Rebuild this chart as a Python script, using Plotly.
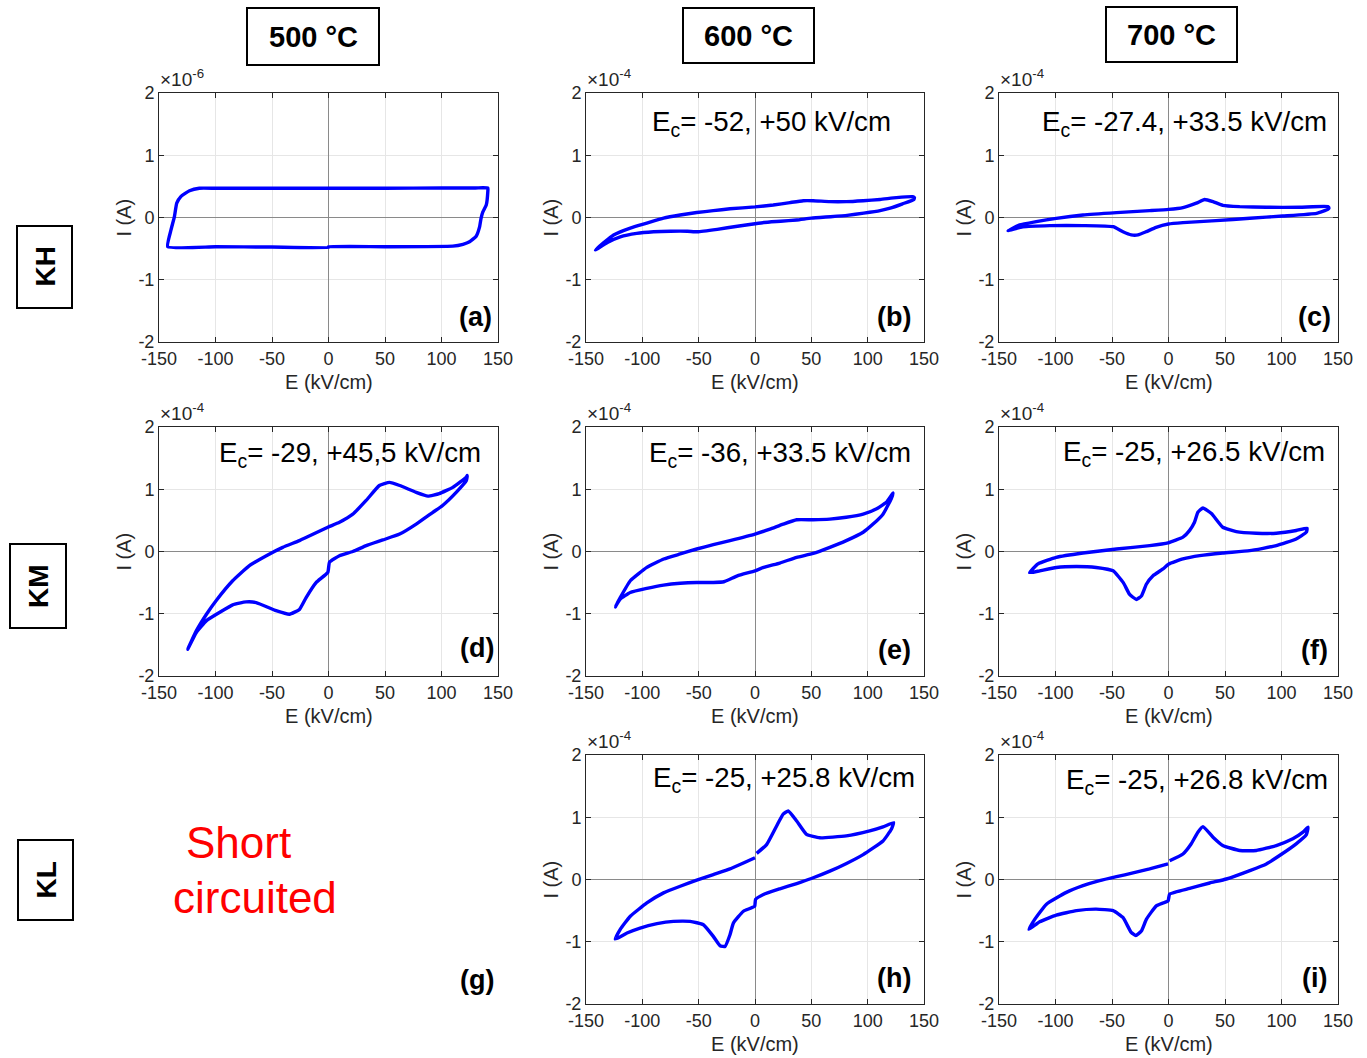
import plotly.graph_objects as go

W, H = 1367, 1058
FONT = "Liberation Sans, Arial, sans-serif"

# ---------------- data (E in kV/cm, I in units of the axis multiplier) ----------------
E_a = [-142.3, -139.4, -136.4, -134.3, -130.5, -123, -114.3, -100, -50, 0, 50, 100, 130, 141, 141, 139.6, 136.6, 135,
       133.7, 130.7, 124.8, 119, 110, 50, 0, 0, -50, -100, -142.3]
I_a = [-0.47, -0.2, 0.01, 0.23, 0.34, 0.43, 0.47, 0.47, 0.47, 0.47, 0.47, 0.475, 0.475, 0.475, 0.42, 0.2, 0.09, -0.013,
       -0.15, -0.3, -0.39, -0.43, -0.46, -0.47, -0.47, -0.48, -0.475, -0.47, -0.47]

E_b = [-141.7, -125.5, -110.7, -96, -81.2, -66.4, -51.7, -37, -22.2, 0, 16.2, 31, 42.8, 51.7, 66.4, 81, 96, 111, 125.5,
       140, 141.5, 141, 131, 120, 111, 96.5, 81.8, 67, 50, 37, 22.7, 8, 0, -15.6, -33.5, -51, -60, -75, -90, -105,
       -119.6, -131, -141.7]
I_b = [-0.52, -0.28, -0.17, -0.09, -0.01, 0.04, 0.08, 0.11, 0.14, 0.17, 0.2, 0.24, 0.27, 0.27, 0.255, 0.255, 0.27, 0.29,
       0.32, 0.335, 0.32, 0.29, 0.22, 0.15, 0.11, 0.07, 0.035, 0.013, -0.01, -0.04, -0.06, -0.08, -0.10, -0.14, -0.19,
       -0.23, -0.22, -0.22, -0.23, -0.255, -0.31, -0.4, -0.52]

E_c = [-142, -131.7, -117, -99.3, -75.7, -46, -16.7, 0, 12.8, 24.6, 32, 39.4, 48, 63, 86.6, 116, 141, 142, 141, 131, 101,
       72, 42, 12.8, 0, -11, -19.7, -27, -33, -40.3, -49, -75.7, -105, -129, -142]
I_c = [-0.21, -0.12, -0.067, -0.013, 0.04, 0.078, 0.11, 0.13, 0.16, 0.23, 0.29, 0.255, 0.196, 0.175, 0.164, 0.164, 0.175,
       0.15, 0.13, 0.067, 0.024, -0.013, -0.05, -0.083, -0.105, -0.158, -0.228, -0.28, -0.28, -0.23, -0.148, -0.13,
       -0.13, -0.15, -0.21]

E_d = [-124.6, -117, -108, -99.5, -84.8, -70, -55, -40.5, -25.7, -11, -0.6, 9.7, 21.5, 33.3, 45, 54, 63, 77.6, 88, 98,
       110, 122, 122.8, 122, 113, 101, 92.4, 77.6, 63, 48, 33.4, 21.5, 9.7, 0.9, -0.6, -11, -19.8, -25.7, -34.5, -46.4,
       -64, -73, -84.8, -96.6, -108, -117, -124.6]
I_d = [-1.57, -1.275, -1.007, -0.79, -0.47, -0.228, -0.067, 0.067, 0.175, 0.3, 0.39, 0.47, 0.6, 0.82, 1.06, 1.11, 1.06,
       0.95, 0.89, 0.93, 1.03, 1.195, 1.22, 1.14, 0.95, 0.74, 0.63, 0.44, 0.28, 0.185, 0.094, 0, -0.067, -0.17, -0.335,
       -0.5, -0.74, -0.93, -1.007, -0.95, -0.82, -0.81, -0.856, -0.98, -1.11, -1.3, -1.57]

E_e = [-124, -119.6, -110.7, -96, -81, -66.4, -51.7, -37, -22.2, 0, 13.3, 25, 37, 51.7, 66.4, 81, 96, 108, 116.6, 122.5,
       121, 113.6, 104.8, 96, 81, 66.4, 51.7, 37, 22, 7.7, 0, -15.6, -27.6, -37, -51.7, -66.4, -81.2, -96, -110.7,
       -119.6, -124]
I_e = [-0.89, -0.74, -0.47, -0.255, -0.12, -0.04, 0.04, 0.11, 0.175, 0.28, 0.36, 0.44, 0.51, 0.51, 0.52, 0.55, 0.6, 0.685,
       0.79, 0.94, 0.85, 0.6, 0.44, 0.31, 0.175, 0.067, -0.03, -0.094, -0.185, -0.255, -0.31, -0.39, -0.486, -0.497,
       -0.497, -0.51, -0.54, -0.593, -0.658, -0.765, -0.89]

E_f = [-122.9, -115.5, -99.3, -75.7, -46, -16.7, -0.4, 12.8, 18.7, 23, 26, 30.5, 38, 48, 60, 77.7, 95.4, 113, 122.6, 122,
       113, 95.4, 71.8, 48, 27.6, 12.8, 0.3, -4.9, -13.7, -19.6, -24, -28.5, -34.4, -40, -49, -64, -81.5, -99.3, -114,
       -122.9]
I_f = [-0.34, -0.2, -0.094, -0.024, 0.04, 0.094, 0.138, 0.23, 0.34, 0.47, 0.63, 0.7, 0.61, 0.39, 0.32, 0.294, 0.294,
       0.337, 0.375, 0.31, 0.2, 0.094, 0.013, -0.024, -0.067, -0.12, -0.2, -0.28, -0.39, -0.526, -0.715, -0.77, -0.69,
       -0.5, -0.31, -0.256, -0.24, -0.256, -0.31, -0.34]

E_h = [1.5, 10.3, 19.2, 25, 29.5, 37, 45.7, 57.6, 81, 101.8, 113.6, 123, 121, 113.6, 96, 81.2, 66.4, 50, 37, 22, 7.5, 0.5,
       -0.3, -10.3, -19.2, -22.2, -26.6, -31, -37, -45.8, -57.6, -72.4, -87, -102, -113.6, -124, -119.6, -110.7, -96,
       -81.2, -66.4, -51.7, -37, -22.2, 0]
I_h = [0.42, 0.56, 0.86, 1.05, 1.1, 0.94, 0.726, 0.67, 0.7, 0.78, 0.844, 0.914, 0.806, 0.618, 0.4, 0.258, 0.134, 0.016,
       -0.065, -0.15, -0.24, -0.32, -0.43, -0.51, -0.7, -0.887, -1.075, -1.065, -0.914, -0.726, -0.672, -0.672, -0.71,
       -0.78, -0.86, -0.957, -0.8, -0.59, -0.376, -0.215, -0.108, -0.01, 0.08, 0.17, 0.35]

E_i = [1, 12.8, 20, 26, 30.5, 39.4, 48, 63, 77.7, 95.4, 110, 119, 123.5, 122, 113, 98.3, 86.6, 72, 51.3, 36.5, 18.7, 1,
       -0.4, -10.8, -19.6, -24, -29, -33, -40.3, -49, -64, -81.5, -99.3, -114, -123.5, -118.4, -108, -90.4, -75.7, -61,
       -46, -31.4, -16.7, -0.4]
I_i = [0.3, 0.41, 0.57, 0.76, 0.85, 0.68, 0.546, 0.466, 0.466, 0.546, 0.654, 0.76, 0.84, 0.72, 0.573, 0.385, 0.25, 0.143,
       0.008, -0.056, -0.143, -0.234, -0.342, -0.423, -0.64, -0.828, -0.9, -0.85, -0.61, -0.5, -0.476, -0.5, -0.573,
       -0.68, -0.8, -0.64, -0.396, -0.207, -0.1, -0.019, 0.046, 0.105, 0.17, 0.25]

x_ticks = [-150, -100, -50, 0, 50, 100, 150]
x_tick_labels = ["-150", "-100", "-50", "0", "50", "100", "150"]
y_ticks = [-2, -1, 0, 1, 2]
y_tick_labels = ["-2", "-1", "0", "1", "2"]

col_titles = ["500 °C", "600 °C", "700 °C"]
row_titles = ["KH", "KM", "KL"]
panel_letters = ["(a)", "(b)", "(c)", "(d)", "(e)", "(f)", "(g)", "(h)", "(i)"]
exponents = ["-6", "-4", "-4", "-4", "-4", "-4", None, "-4", "-4"]
ec_labels = [None, "E<sub>c</sub>= -52, +50 kV/cm", "E<sub>c</sub>= -27.4, +33.5 kV/cm",
             "E<sub>c</sub>= -29, +45,5 kV/cm", "E<sub>c</sub>= -36, +33.5 kV/cm", "E<sub>c</sub>= -25, +26.5 kV/cm",
             None, "E<sub>c</sub>= -25, +25.8 kV/cm", "E<sub>c</sub>= -25, +26.8 kV/cm"]
series = [(E_a, I_a), (E_b, I_b), (E_c, I_c), (E_d, I_d), (E_e, I_e), (E_f, I_f), None, (E_h, I_h), (E_i, I_i)]

# ---------------- layout geometry (pixels) ----------------
col_px = [(159, 498), (586, 924), (999, 1338)]
row_px = [(93, 342), (427, 676), (755, 1004)]
ec_pos = [None, (893, 122), (1329, 122), (483, 453), (913, 453), (1327, 452), None, (917, 778), (1330, 780)]
letter_pos = [(494, 317), (913, 317), (1333, 317), (496, 648), (913, 650), (1330, 650), (496, 980), (913, 978), (1329, 978)]
col_box = [(247, 8, 379, 65), (683, 8, 814, 63), (1106, 7, 1237, 62)]
row_box = [(17, 226, 72, 308), (10, 544, 66, 628), (18, 840, 73, 920)]


def px(x):
    return x / W


def py(y):
    return 1 - y / H


fig = go.Figure()
annotations = []
shapes = []
axis_style = dict(
    showgrid=True, gridcolor="#e6e6e6", gridwidth=1,
    zeroline=True, zerolinecolor="#8a8a8a", zerolinewidth=1,
    showline=True, linecolor="#262626", linewidth=1, mirror="ticks",
    ticks="inside", ticklen=5, tickcolor="#262626", tickwidth=1,
    tickfont=dict(family=FONT, size=18, color="#262626"),
    fixedrange=True, automargin=False,
)

ax_n = 0
for k in range(9):
    r, c = divmod(k, 3)
    x0, x1 = col_px[c]
    y0, y1 = row_px[r]
    if series[k] is not None:
        ax_n += 1
        sfx = "" if ax_n == 1 else str(ax_n)
        E, I = series[k]
        fig.add_trace(go.Scatter(x=E, y=I, mode="lines", xaxis="x" + sfx, yaxis="y" + sfx,
                                 line=dict(color="#0000ff", width=3.4, shape="spline", smoothing=0.4),
                                 showlegend=False, hoverinfo="skip"))
        fig.layout["xaxis" + sfx] = dict(axis_style, domain=[px(x0), px(x1)], range=[-150, 150],
                                         tickvals=x_ticks, ticktext=x_tick_labels, anchor="y" + sfx)
        fig.layout["yaxis" + sfx] = dict(axis_style, domain=[py(y1), py(y0)], range=[-2, 2],
                                         tickvals=y_ticks, ticktext=y_tick_labels, anchor="x" + sfx)
        # axis titles
        annotations.append(dict(text="E (kV/cm)", x=px((x0 + x1) / 2), y=py(y1 + 40), xref="paper", yref="paper",
                                showarrow=False, xanchor="center", yanchor="middle",
                                font=dict(family=FONT, size=20, color="#262626")))
        annotations.append(dict(text="I (A)", x=px(x0 - 36), y=py((y0 + y1) / 2), xref="paper", yref="paper",
                                showarrow=False, xanchor="center", yanchor="middle", textangle=-90,
                                font=dict(family=FONT, size=20, color="#262626")))
        # exponent
        annotations.append(dict(text="×10<sup>" + exponents[k] + "</sup>", x=px(x0 - 1), y=py(y0 - 1),
                                xref="paper", yref="paper", showarrow=False, xanchor="left", yanchor="bottom",
                                font=dict(family=FONT, size=19, color="#262626")))
    if ec_labels[k] is not None:
        ex, ey = ec_pos[k]
        annotations.append(dict(text=ec_labels[k], x=px(ex), y=py(ey + 1), xref="paper", yref="paper",
                                showarrow=False, xanchor="right", yanchor="middle",
                                font=dict(family=FONT, size=27.7, color="#000000")))
    lx, ly = letter_pos[k]
    annotations.append(dict(text="<b>" + panel_letters[k] + "</b>", x=px(lx), y=py(ly), xref="paper", yref="paper",
                            showarrow=False, xanchor="right", yanchor="middle",
                            font=dict(family=FONT, size=27, color="#000000")))

# column titles with boxes
for t, (bx0, by0, bx1, by1) in zip(col_titles, col_box):
    shapes.append(dict(type="rect", xref="paper", yref="paper", x0=px(bx0), x1=px(bx1), y0=py(by1), y1=py(by0),
                       line=dict(color="#000000", width=2)))
    annotations.append(dict(text="<b>" + t + "</b>", x=px((bx0 + bx1) / 2), y=py((by0 + by1) / 2),
                            xref="paper", yref="paper", showarrow=False, xanchor="center", yanchor="middle",
                            font=dict(family=FONT, size=29, color="#000000")))
# row titles with boxes
for t, (bx0, by0, bx1, by1) in zip(row_titles, row_box):
    shapes.append(dict(type="rect", xref="paper", yref="paper", x0=px(bx0), x1=px(bx1), y0=py(by1), y1=py(by0),
                       line=dict(color="#000000", width=2)))
    annotations.append(dict(text="<b>" + t + "</b>", x=px((bx0 + bx1) / 2), y=py((by0 + by1) / 2),
                            xref="paper", yref="paper", showarrow=False, xanchor="center", yanchor="middle",
                            textangle=-90, font=dict(family=FONT, size=28, color="#000000")))

# short circuited note for (g)
annotations.append(dict(text="Short", x=px(238.5), y=py(842), xref="paper", yref="paper", showarrow=False,
                        xanchor="center", yanchor="middle", font=dict(family=FONT, size=44, color="#ff0000")))
annotations.append(dict(text="circuited", x=px(255), y=py(897), xref="paper", yref="paper", showarrow=False,
                        xanchor="center", yanchor="middle", font=dict(family=FONT, size=44, color="#ff0000")))

fig.update_layout(width=W, height=H, autosize=False, margin=dict(l=0, r=0, t=0, b=0, pad=0),
                  paper_bgcolor="white", plot_bgcolor="white", annotations=annotations, shapes=shapes,
                  showlegend=False, font=dict(family=FONT))
fig.write_html("out.html", config={"displayModeBar": False, "responsive": False},
               post_script="document.body.style.margin='0px';document.body.style.overflow='hidden';")
